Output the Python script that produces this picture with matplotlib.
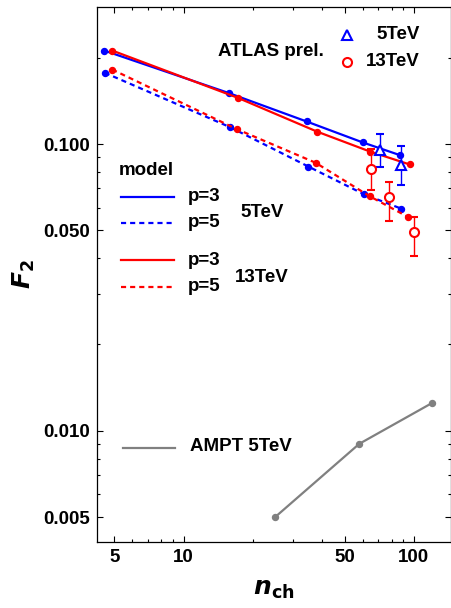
import numpy as np
import matplotlib as mpl
import matplotlib.pyplot as plt

mpl.rcParams['font.family'] = ['Liberation Sans', 'DejaVu Sans']
mpl.rcParams['font.weight'] = 'bold'

# model, 5TeV
nch_5_p3 = [4.52, 15.7, 34.2, 60.0, 86.9]
f2_5_p3 = [0.212, 0.1507, 0.1199, 0.1013, 0.0915]
nch_5_p5 = [4.55, 15.9, 34.8, 61.0, 88.2]
f2_5_p5 = [0.1773, 0.1146, 0.0835, 0.0667, 0.0595]

# model, 13TeV
nch_13_p3 = [4.9, 17.2, 37.9, 64.4, 95.8]
f2_13_p3 = [0.212, 0.145, 0.1106, 0.0942, 0.0849]
nch_13_p5 = [4.9, 17.0, 37.4, 64.4, 94.6]
f2_13_p5 = [0.182, 0.1128, 0.0861, 0.0657, 0.0556]

# ATLAS prel.
atlas5_x = [71.6, 88.2]
atlas5_y = [0.095, 0.0847]
atlas5_lo = [0.0829, 0.0719]
atlas5_hi = [0.108, 0.0984]
atlas13_x = [65.0, 77.9, 100.0]
atlas13_y = [0.082, 0.0653, 0.0494]
atlas13_lo = [0.0691, 0.0541, 0.0408]
atlas13_hi = [0.0963, 0.0737, 0.0555]

# AMPT 5TeV
ampt_x = [25.0, 57.9, 120.0]
ampt_y = [0.005, 0.0090, 0.0125]

blue = '#0000ff'
red = '#ff0000'
gray = '#808080'

fig = plt.figure(figsize=(4.52, 6.08), dpi=100)
ax = fig.add_axes([0.214, 0.109, 0.784, 0.879])
ax.set_xscale('log')
ax.set_yscale('log')

lw = 1.6
ms = 4.3
dash = (2.3, 1.8)
ax.plot(nch_5_p3, f2_5_p3, '-', color=blue, lw=lw, marker='o', ms=ms)
ax.plot(nch_5_p5, f2_5_p5, '--', color=blue, lw=lw, marker='o', ms=ms, dashes=dash)
ax.plot(nch_13_p3, f2_13_p3, '-', color=red, lw=lw, marker='o', ms=ms)
ax.plot(nch_13_p5, f2_13_p5, '--', color=red, lw=lw, marker='o', ms=ms, dashes=dash)

y = np.array(atlas5_y)
ax.errorbar(atlas5_x, atlas5_y,
            yerr=[y - np.array(atlas5_lo), np.array(atlas5_hi) - y],
            fmt='^', color=blue, mfc='white', mec=blue, ms=7.5, mew=1.5,
            elinewidth=1.0, capsize=3, capthick=1.0, zorder=5)
y = np.array(atlas13_y)
ax.errorbar(atlas13_x, atlas13_y,
            yerr=[y - np.array(atlas13_lo), np.array(atlas13_hi) - y],
            fmt='o', color=red, mfc='white', mec=red, ms=6.5, mew=1.5,
            elinewidth=1.0, capsize=3, capthick=1.0, zorder=5)

ax.plot(ampt_x, ampt_y, '-', color=gray, lw=lw, marker='o', ms=ms)

ax.set_xlim(4.2, 145)
ax.set_ylim(0.0041, 0.3)

ax.set_xticks([5, 10, 50, 100])
ax.set_xticklabels(['5', '10', '50', '100'])
ax.set_xticks([6, 7, 8, 9, 20, 30, 40, 60, 70, 80, 90], minor=True)
ax.xaxis.set_minor_formatter(mpl.ticker.NullFormatter())
ax.set_yticks([0.005, 0.01, 0.05, 0.1])
ax.set_yticklabels(['0.005', '0.010', '0.050', '0.100'])
ax.set_yticks([0.006, 0.007, 0.008, 0.009, 0.02, 0.03, 0.04, 0.06, 0.07,
               0.08, 0.09, 0.2], minor=True)
ax.yaxis.set_minor_formatter(mpl.ticker.NullFormatter())
ax.tick_params(which='both', direction='in', top=True, right=True,
               labelsize=13.5, width=0.8)
ax.tick_params(which='major', length=4.5, pad=5)
ax.tick_params(which='minor', length=2.5)
for s in ax.spines.values():
    s.set_linewidth(0.9)

ax.set_xlabel(r'$\boldsymbol{n}_{\mathbf{ch}}$', fontsize=18, labelpad=8)
ax.set_ylabel(r'$\boldsymbol{F}_{\mathbf{2}}$', fontsize=18, labelpad=4)

# model legend drawn by hand
fs = 13.5
tr = ax.transAxes
def fx(px):
    return (px - 96.7) / (451 - 96.7)
def fy(py):
    return (541.7 - py) / (541.7 - 7.3)

ax.text(fx(119), fy(170), 'model', transform=tr, fontsize=fs, va='center', ha='left')
rows = [(196.7, blue, '-', 'p=3'), (222.7, blue, '--', 'p=5'),
        (260, red, '-', 'p=3'), (286.7, red, '--', 'p=5')]
for py, c, ls, lab in rows:
    l = ax.plot([fx(121), fx(174)], [fy(py), fy(py)], transform=tr, color=c, lw=lw, ls=ls)
    if ls == '--':
        l[0].set_dashes(dash)
    ax.text(fx(188), fy(py), lab, transform=tr, fontsize=fs, va='center', ha='left')
ax.text(fx(240), fy(212), '5TeV', transform=tr, fontsize=fs, va='center', ha='left')
ax.text(fx(235), fy(277), '13TeV', transform=tr, fontsize=fs, va='center', ha='left')

ax.plot([fx(122.7), fx(175)], [fy(448), fy(448)], transform=tr, color=gray, lw=lw)
ax.text(fx(190), fy(446), 'AMPT 5TeV', transform=tr, fontsize=fs, va='center', ha='left')

ax.text(fx(218), fy(51.7), 'ATLAS prel.', transform=tr, fontsize=fs, va='center', ha='left')
ax.plot([fx(346.7)], [fy(35)], transform=tr, marker='^', ms=7.5, mfc='white', mec=blue, mew=1.5, ls='none')
ax.text(fx(376.7), fy(35), '5TeV', transform=tr, fontsize=fs, va='center', ha='left')
ax.plot([fx(347.3)], [fy(61.7)], transform=tr, marker='o', ms=6.5, mfc='white', mec=red, mew=1.5, ls='none')
ax.text(fx(366), fy(61.7), '13TeV', transform=tr, fontsize=fs, va='center', ha='left')

fig.savefig('out.png', dpi=100)
